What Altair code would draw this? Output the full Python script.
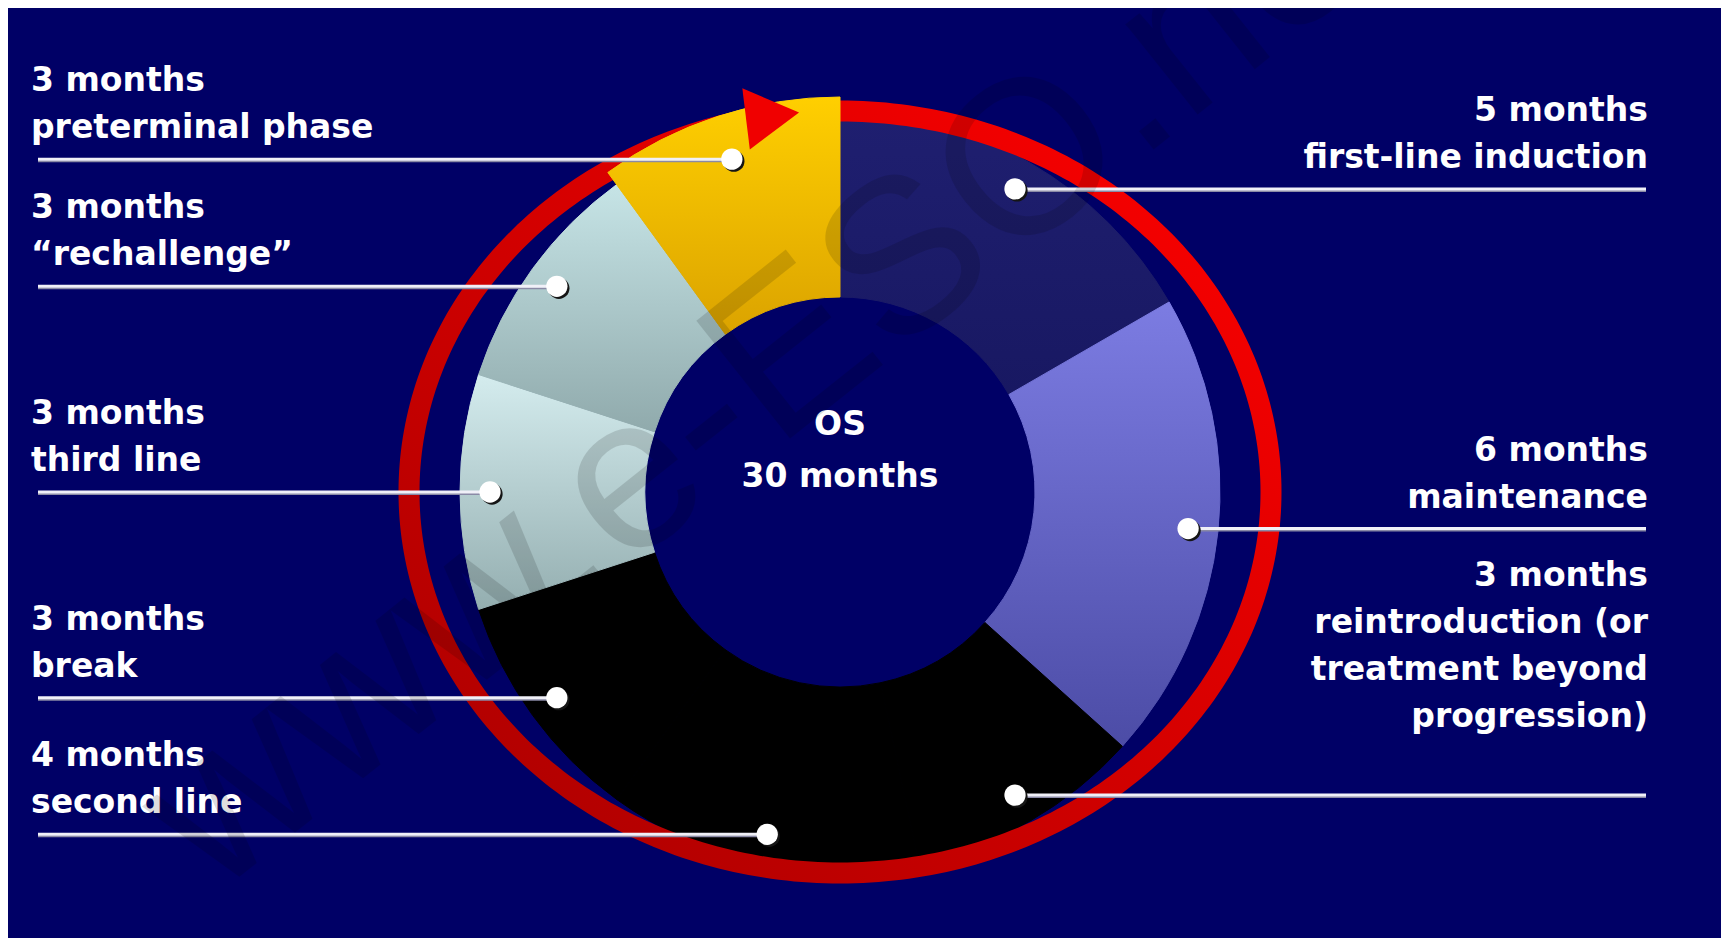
import altair as alt
import pandas as pd

# ---------------- data ----------------
phases = ["first-line induction", "maintenance", "reintroduction",
          "second line", "break", "third line", "rechallenge", "preterminal phase"]
months = [5, 6, 3, 4, 3, 3, 3, 3]
label_names = ["first-line induction", "maintenance",
               "reintroduction (or\ntreatment beyond\nprogression)\n",
               "second line", "break", "third line", "\u201crechallenge\u201d",
               "preterminal phase"]
center_title = "OS"
watermark = "www.e-ESO.net"

# ---------------- style / layout ----------------
W, H = 1713, 930
CX, CY = 832, 484
R_IN, R_OUT, R_GOLD = 195, 380, 395
R_DOT = 350
RING_RX, RING_RY, RING_W = 431, 381, 21
BG = "#000066"
FONT = "DejaVu Sans"
LH = 47
slice_top = ["#1f1f70", "#7c7ce2", "#000000", "#000000", "#000000", "#d4ecee", "#c6e4e6", "#ffcf00"]
slice_bot = ["#181862", "#4c4ca6", "#000000", "#000000", "#000000", "#94aeb0", "#90aaac", "#dba300"]
TOTAL = sum(months)

df = pd.DataFrame({
    "phase": phases,
    "months": months,
    "order": list(range(len(phases))),
    "label": [f"{m} months\n{n}" for m, n in zip(months, label_names)],
})

xs = alt.Scale(domain=[0, W], nice=False, zero=False)
ys = alt.Scale(domain=[0, H], nice=False, zero=False, reverse=True)


def X(f):
    return alt.X(f, type="quantitative", scale=xs, axis=None)


def Y(f):
    return alt.Y(f, type="quantitative", scale=ys, axis=None)


def vgrad(top, bot):
    return alt.Gradient(gradient="linear",
                        stops=[alt.GradientStop(color=top, offset=0),
                               alt.GradientStop(color=bot, offset=1)],
                        x1=0, x2=0, y1=0, y2=1)


base = (alt.Chart(df)
        .transform_window(cum="sum(months)", sort=[alt.SortField("order")])
        .transform_joinaggregate(total="sum(months)")
        .transform_calculate(
            start="datum.cum - datum.months",
            ang="2*PI*(datum.cum - datum.months/2)/datum.total",
            nlines="length(split(datum.label, '\\n'))")
        .transform_calculate(
            px=f"{CX} + {R_DOT}*sin(datum.ang)",
            py=f"{CY} - {R_DOT}*cos(datum.ang)",
            right="datum.ang < PI")
        .transform_calculate(
            lx0="datum.right ? datum.px : 30",
            lx1="datum.right ? 1638 : datum.px",
            sx="datum.px + 2", sy="datum.py + 2", ly="datum.py + 2",
            ty=f"datum.py - 21 - (datum.nlines - 1)*{LH}"))

theta = alt.Theta("start:Q", scale=alt.Scale(domain=[0, TOTAL]), stack=None)
theta2 = alt.Theta2("cum:Q")

layers = []
# slices (non-gold first)
gold = phases[-1]
for i, ph in enumerate(phases):
    if ph == gold:
        continue
    g = vgrad(slice_top[i], slice_bot[i])
    layers.append(base.transform_filter(alt.datum.phase == ph)
                  .mark_arc(innerRadius=R_IN, outerRadius=R_OUT, x=CX, y=CY,
                            fill=g, stroke=g, strokeWidth=1)
                  .encode(theta=theta, theta2=theta2))

# red ring (ellipse)
ring_grad = alt.Gradient(gradient="linear",
                         stops=[alt.GradientStop(color="#a80000", offset=0),
                                alt.GradientStop(color="#ff0000", offset=1)],
                         x1=0, y1=1, x2=1, y2=0)
ring = (alt.Chart(alt.sequence(0, 349, 1, as_="t"))
        .transform_calculate(rx=f"{CX} + {RING_RX}*sin(datum.t*PI/180)",
                             ry=f"{CY} - {RING_RY}*cos(datum.t*PI/180)")
        .mark_line(stroke=ring_grad, strokeWidth=RING_W, strokeCap="butt")
        .encode(x=X("rx"), y=Y("ry"), order="t:Q"))
layers.append(ring)

# gold slice on top of ring
gi = phases.index(gold)
gg = vgrad(slice_top[gi], slice_bot[gi])
layers.append(base.transform_filter(alt.datum.phase == gold)
              .mark_arc(innerRadius=R_IN, outerRadius=R_GOLD, x=CX, y=CY,
                        fill=gg, stroke=gg, strokeWidth=1)
              .encode(theta=theta, theta2=theta2))

# arrow head
arrow = (alt.Chart(alt.sequence(351, 352, 1, as_="t"))
         .transform_calculate(rx=f"{CX} + {RING_RX}*sin(datum.t*PI/180)",
                              ry=f"{CY} - {RING_RY}*cos(datum.t*PI/180)")
         .mark_point(shape="triangle-right", filled=True, size=3800, angle=353,
                     color="#f00000", opacity=1, strokeWidth=0)
         .encode(x=X("rx"), y=Y("ry")))
layers.append(arrow)

# leader lines
layers.append(base.mark_rule(color="#8a8aa6", strokeWidth=2)
              .encode(x=X("lx0"), x2=alt.X2("lx1"), y=Y("ly")))
layers.append(base.mark_rule(color="#f0f0f8", strokeWidth=3)
              .encode(x=X("lx0"), x2=alt.X2("lx1"), y=Y("py")))
# dots
layers.append(base.mark_circle(size=452, color="#151515", opacity=1)
              .encode(x=X("sx"), y=Y("sy")))
layers.append(base.mark_circle(size=452, color="#ffffff", opacity=1)
              .encode(x=X("px"), y=Y("py")))

# labels
txt_kw = dict(baseline="alphabetic", lineBreak="\n", lineHeight=LH, font=FONT,
              fontSize=33, fontWeight="bold", color="#ffffff")
layers.append(base.transform_filter("!datum.right")
              .mark_text(align="left", **txt_kw)
              .encode(x=alt.value(23), y=Y("ty"), text="label:N"))
layers.append(base.transform_filter("datum.right")
              .mark_text(align="right", **txt_kw)
              .encode(x=alt.value(1640), y=Y("ty"), text="label:N"))

# center text
center = (alt.Chart(df)
          .transform_aggregate(total="sum(months)")
          .transform_calculate(txt=f"'{center_title}' + '|' + datum.total + ' months'")
          .mark_text(align="center", baseline="alphabetic", lineBreak="|", lineHeight=52,
                     font=FONT, fontSize=33, fontWeight="bold", color="#ffffff")
          .encode(x=alt.value(CX), y=alt.value(427), text="txt:N"))
layers.append(center)

# watermark
wm = (alt.Chart(pd.DataFrame({"wm": [watermark]}))
      .mark_text(align="center", baseline="middle", angle=321.5, fontSize=219,
                 font="Liberation Sans", color="#000000", opacity=0.13, clip=True)
      .encode(x=alt.value(770), y=alt.value(356), text="wm:N"))
layers.append(wm)

chart = (alt.layer(*layers)
         .properties(width=W, height=H, background=BG, padding=0,
                     autosize=alt.AutoSizeParams(type="none"))
         .configure_view(stroke=None))

chart.save("out.html", embed_options={"renderer": "svg", "actions": False})
